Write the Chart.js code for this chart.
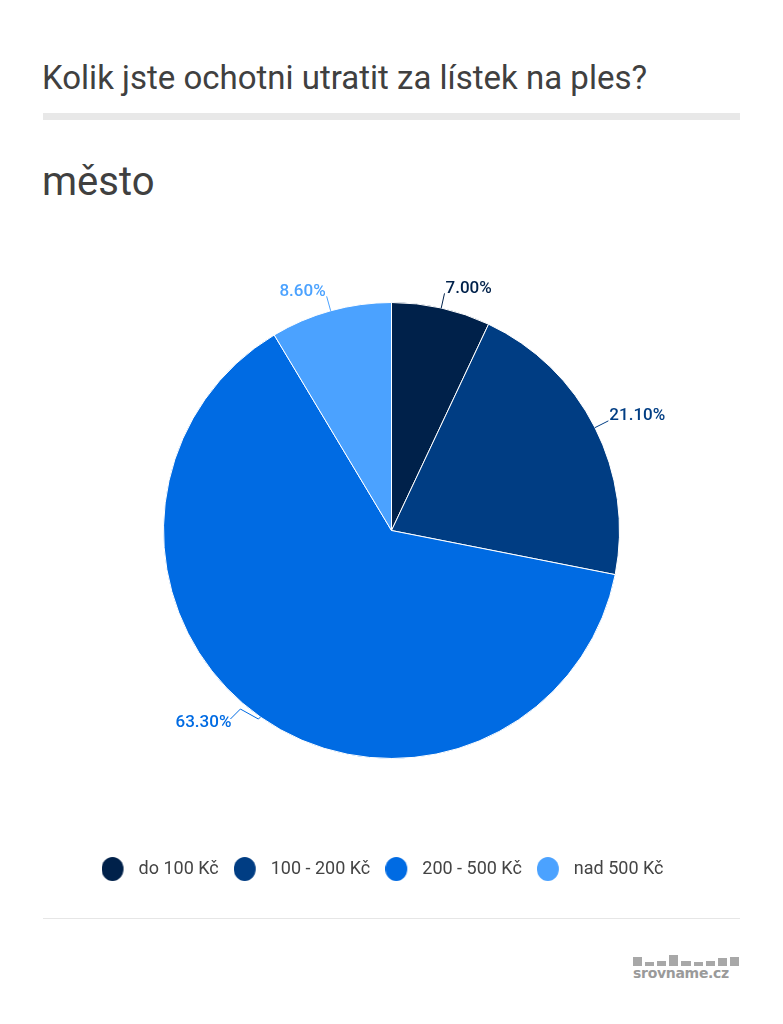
<!DOCTYPE html>
<html>
<head>
<meta charset="utf-8">
<script src="https://cdn.jsdelivr.net/npm/chart.js@4.4.0/dist/chart.umd.min.js"></script>
<style>
  body { margin: 0; background: #fff; font-family: Roboto, sans-serif; }
  .page { position: relative; width: 783px; height: 1024px; overflow: hidden; }
  .title { position: absolute; left: 42px; top: 58px; font-size: 33px; color: #404040; white-space: nowrap; }
  .bar { position: absolute; left: 43px; top: 113px; width: 697px; height: 7px; background: #e8e8e8; }
  .sub { position: absolute; left: 42px; top: 158px; font-size: 40px; color: #404040; }
  .chart-box { position: absolute; left: 0; top: 216px; width: 783px; height: 672px; }
  .line { position: absolute; left: 43px; top: 918px; width: 697px; height: 1px; background: #e6e6e6; }
  .logo { position: absolute; left: 633px; top: 955px; width: 106px; }
  .logo .sq { display: flex; align-items: flex-end; gap: 3px; height: 11px; }
  .logo .sq span { display: block; width: 10px; background: #a8a8a8; }
  .logo .txt { font-family: "DejaVu Sans", sans-serif; font-weight: bold; font-size: 14px; color: #9a9a9a; line-height: 15px; letter-spacing: -0.3px; }
</style>
</head>
<body>
<div class="page">
  <div class="title">Kolik jste ochotni utratit za lístek na ples?</div>
  <div class="bar"></div>
  <div class="sub">město</div>
  <div class="chart-box"><canvas id="myChart"></canvas></div>
  <div class="line"></div>
  <div class="logo">
    <div class="sq"><span style="height:9px"></span><span style="height:4px"></span><span style="height:5px"></span><span style="height:11px"></span><span style="height:5px"></span><span style="height:4px"></span><span style="height:5px"></span><span style="height:8px"></span><span style="height:9px"></span></div>
    <div class="txt">srovname.cz</div>
  </div>
</div>
<script>
const categories = ['do 100 Kč', '100 - 200 Kč', '200 - 500 Kč', 'nad 500 Kč']
const values = [7.0, 21.1, 63.3, 8.6]
const sliceColors = ['#00214a', '#003d83', '#006be3', '#4ba2ff']

// legend marker: oval on the left of a wider box, so text sits further right
const makeMarker = (color) => {
    const c = document.createElement('canvas')
    c.width = 28
    c.height = 24
    const g = c.getContext('2d')
    g.fillStyle = color
    g.beginPath()
    g.ellipse(11, 12, 11, 12, 0, 0, Math.PI * 2)
    g.fill()
    return c
}
const markers = sliceColors.map(makeMarker)

// outside percentage labels with short leader lines
const outsideLabels = {
    id: 'outsideLabels',
    afterDatasetsDraw(chart) {
        const ctx = chart.ctx
        const meta = chart.getDatasetMeta(0)
        meta.data.forEach((arc, i) => {
            const { x, y, startAngle, endAngle, outerRadius } = arc.getProps(['x', 'y', 'startAngle', 'endAngle', 'outerRadius'], true)
            const mid = (startAngle + endAngle) / 2
            const cos = Math.cos(mid)
            const sin = Math.sin(mid)
            const x1 = x + outerRadius * cos
            const y1 = y + outerRadius * sin
            const text = values[i].toFixed(2) + '%'
            ctx.save()
            ctx.strokeStyle = sliceColors[i]
            ctx.fillStyle = sliceColors[i]
            ctx.lineWidth = 1
            ctx.font = '500 17px Roboto'
            ctx.textBaseline = 'middle'
            ctx.beginPath()
            ctx.moveTo(x1, y1)
            if (cos < 0 && sin > 0) {
                // lower left: elbowed leader
                ctx.lineTo(x1 - 2, y1 + 2)
                ctx.lineTo(x1 - 20, y1 - 8)
                ctx.lineTo(x1 - 30, y1 + 2)
                ctx.stroke()
                ctx.textAlign = 'right'
                ctx.fillText(text, x1 - 29, y1 + 6)
            } else {
                const x2 = x + (outerRadius + 15) * cos
                const y2 = y + (outerRadius + 15) * sin
                ctx.lineTo(x2, y2)
                ctx.stroke()
                ctx.textAlign = cos >= 0 ? 'left' : 'right'
                ctx.fillText(text, x2 + (cos >= 0 ? 1 : -1), y2 - 5)
            }
            ctx.restore()
        })
    }
}

// legend in the reference sits slightly left of centre
const legendShift = {
    id: 'legendShift',
    afterLayout(chart) {
        chart.legend.left -= 9
        chart.legend.right -= 9
    }
}

const ctx = document.getElementById('myChart')
const myChart = new Chart(ctx, {
    type: 'pie',
    data: {
        labels: categories,
        datasets: [{
            data: values,
            backgroundColor: sliceColors,
            borderColor: '#ffffff',
            borderWidth: 1,
            radius: 228
        }]
    },
    options: {
        responsive: true,
        maintainAspectRatio: false,
        animation: false,
        layout: { padding: 0 },
        plugins: {
            tooltip: { enabled: false },
            legend: {
                position: 'bottom',
                labels: {
                    usePointStyle: true,
                    boxHeight: 17,
                    pointStyleWidth: 28,
                    padding: 15,
                    color: '#444444',
                    font: { family: 'Roboto', size: 18 },
                    generateLabels: (chart) => {
                        const items = Chart.overrides.pie.plugins.legend.labels.generateLabels(chart)
                        return items.map((item, i) => ({ ...item, pointStyle: markers[i] }))
                    }
                }
            }
        }
    },
    plugins: [outsideLabels, legendShift]
})
</script>
</body>
</html>
